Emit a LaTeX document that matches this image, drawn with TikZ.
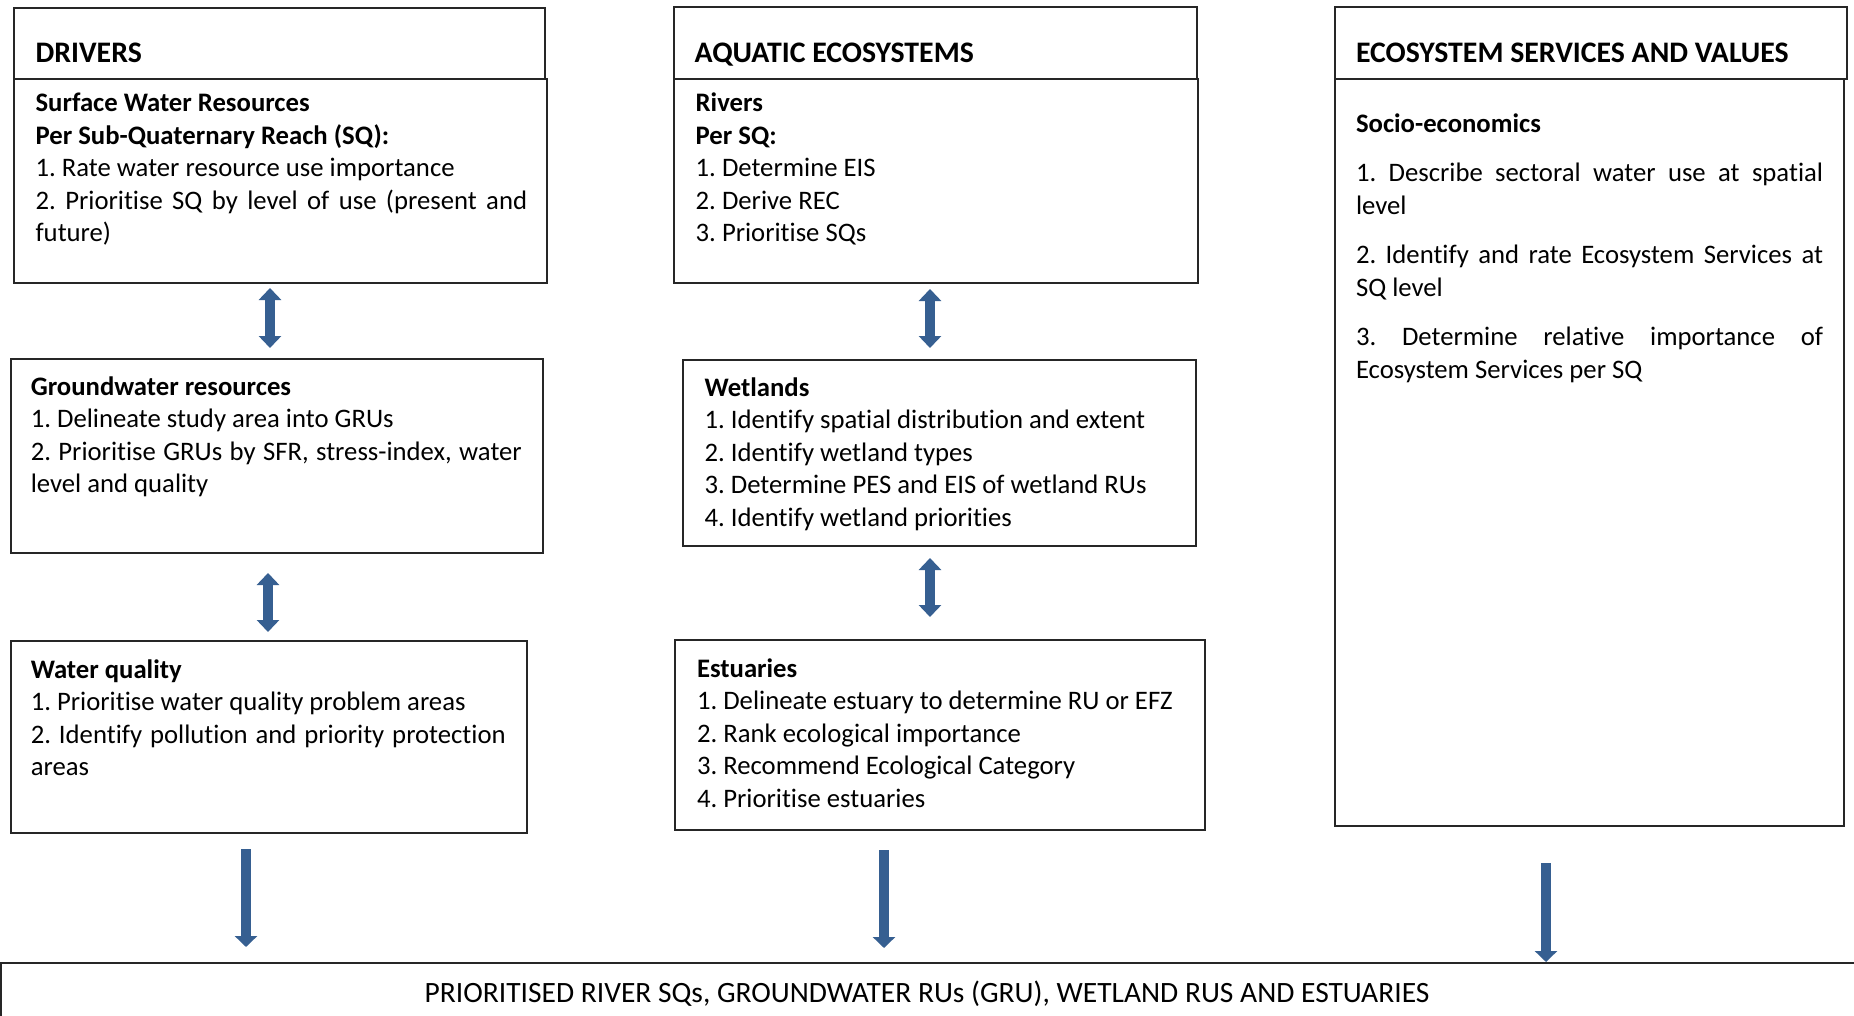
\documentclass[tikz,border=0pt]{standalone}
\usepackage{fontspec}
\setmainfont{Carlito}[Ligatures=NoCommon]
\usetikzlibrary{arrows.meta}
\definecolor{arrowblue}{RGB}{54,95,145}
\frenchspacing
\newcommand{\bodyfont}{\fontsize{26.7}{32.5}\selectfont\frenchspacing}
\newcommand{\headfont}{\fontsize{29.8}{34}\selectfont\bfseries}
\newcommand{\jline}[1]{{\spaceskip=0pt\xspaceskip=0pt\makebox[\hsize][s]{#1}}}
\begin{document}
\begin{tikzpicture}[x=1pt,y=-1pt,
  box/.style={draw=black!85, line width=1.3pt, inner sep=0pt, outer sep=0pt, anchor=north west},
  txt/.style={anchor=base west, inner sep=0pt, outer sep=0pt, align=justify, font=\bodyfont,
    execute at begin node={\spaceskip=0pt\xspaceskip=0pt\parfillskip=0pt plus 1fil}},
  hdr/.style={anchor=base west, inner sep=0pt, outer sep=0pt, font=\headfont},
  dblarrow/.style={arrowblue, line width=9.5pt, line cap=butt,
    {Triangle[width=22pt,length=12pt]}-{Triangle[width=22pt,length=12pt]}},
  downarrow/.style={arrowblue, line width=10pt, line cap=butt,
    -{Triangle[width=22pt,length=11pt]}}]
\useasboundingbox (0,0) rectangle (1854,1016);
\clip (0,0) rectangle (1854,1016);
\fill[white] (0,0) rectangle (1854,1016);

% column 1: drivers
\node[box, minimum width=531pt, minimum height=71pt] (drvh) at (14,8) {};
\node[box, minimum width=533pt, minimum height=204pt] (drvb) at (14,79) {};
\node[hdr] (drvt) at (35.6,63) {DRIVERS};
\node[txt, text width=491.5pt] (drvx) at (35.6,112) {\textbf{Surface Water Resources}\\
\textbf{Per Sub-Quaternary Reach (SQ):}\\
1. Rate water resource use importance\\
\jline{2. Prioritise SQ by level of use (present and}\\
future)};

\node[box, minimum width=532pt, minimum height=194pt] (gw) at (11,359) {};
\node[txt, text width=491pt] (gwx) at (30.8,395) {\textbf{Groundwater resources}\\
1. Delineate study area into GRUs\\
\jline{2. Prioritise GRUs by SFR, stress-index, water}\\
level and quality};

\node[box, minimum width=516pt, minimum height=192pt] (wq) at (11,641) {};
\node[txt, text width=475pt] (wqx) at (30.8,678) {\textbf{Water quality}\\
1. Prioritise water quality problem areas\\
\jline{2. Identify pollution and priority protection}\\
areas};

% column 2: aquatic ecosystems
\node[box, minimum width=523pt, minimum height=72pt] (aqh) at (674,7) {};
\node[box, minimum width=524pt, minimum height=204pt] (aqb) at (674,79) {};
\node[hdr] (aqt) at (694.6,63) {AQUATIC ECOSYSTEMS};
\node[txt, text width=480pt] (aqx) at (695.7,112) {\textbf{Rivers}\\
\textbf{Per SQ:}\\
1. Determine EIS\\
2. Derive REC\\
3. Prioritise SQs};

\node[box, minimum width=513pt, minimum height=186pt] (wl) at (683,360) {};
\node[txt, text width=480pt] (wlx) at (704.6,396) {\textbf{Wetlands}\\
1. Identify spatial distribution and extent\\
2. Identify wetland types\\
3. Determine PES and EIS of wetland RUs\\
4. Identify wetland priorities};

\node[box, minimum width=530pt, minimum height=190pt] (es) at (675,640) {};
\node[txt, text width=500pt] (esx) at (697,677) {\textbf{Estuaries}\\
1. Delineate estuary to determine RU or EFZ\\
2. Rank ecological importance\\
3. Recommend Ecological Category\\
4. Prioritise estuaries};

% column 3: ecosystem services
\node[box, minimum width=512pt, minimum height=72pt] (ech) at (1335,7) {};
\node[box, minimum width=509pt, minimum height=747pt] (ecb) at (1335,79) {};
\node[hdr] (ect) at (1356,63) {ECOSYSTEM SERVICES AND VALUES};
\node[txt, text width=467pt] (ecx) at (1356,132.5) {\textbf{Socio-economics}\\[17pt]
\jline{1. Describe sectoral water use at spatial}\\
level\\[17pt]
\jline{2. Identify and rate Ecosystem Services at}\\
SQ level\\[17pt]
\jline{3. Determine relative importance of}\\
Ecosystem Services per SQ};

% bottom result box
\node[box, minimum width=1900pt, minimum height=100pt] (bot) at (1,963) {};
\node[anchor=base, inner sep=0pt, font=\fontsize{29.5}{34}\selectfont] (bott) at (927,1002)
  {PRIORITISED RIVER SQs, GROUNDWATER RUs (GRU), WETLAND RUS AND ESTUARIES};

% arrow columns
\coordinate (c1) at (270,0);
\coordinate (c2) at (268,0);
\coordinate (c3) at (930,0);
\coordinate (c4) at (246,0);
\coordinate (c5) at (884,0);
\coordinate (c6) at (1546,0);

\draw[dblarrow, shorten <=5pt, shorten >=11pt] (drvb.south -| c1) -- (gw.north -| c1);
\draw[dblarrow, shorten <=20pt, shorten >=9pt] (gw.south -| c2) -- (wq.north -| c2);
\draw[dblarrow, shorten <=6pt, shorten >=12pt] (aqb.south -| c3) -- (wl.north -| c3);
\draw[dblarrow, shorten <=12pt, shorten >=23pt] (wl.south -| c3) -- (es.north -| c3);
\draw[downarrow, shorten <=16pt, shorten >=16pt] (wq.south -| c4) -- (bot.north -| c4);
\draw[downarrow, shorten <=20pt, shorten >=15pt] (es.south -| c5) -- (bot.north -| c5);
\draw[downarrow, shorten <=37pt, shorten >=1pt] (ecb.south -| c6) -- (bot.north -| c6);
\end{tikzpicture}
\end{document}
